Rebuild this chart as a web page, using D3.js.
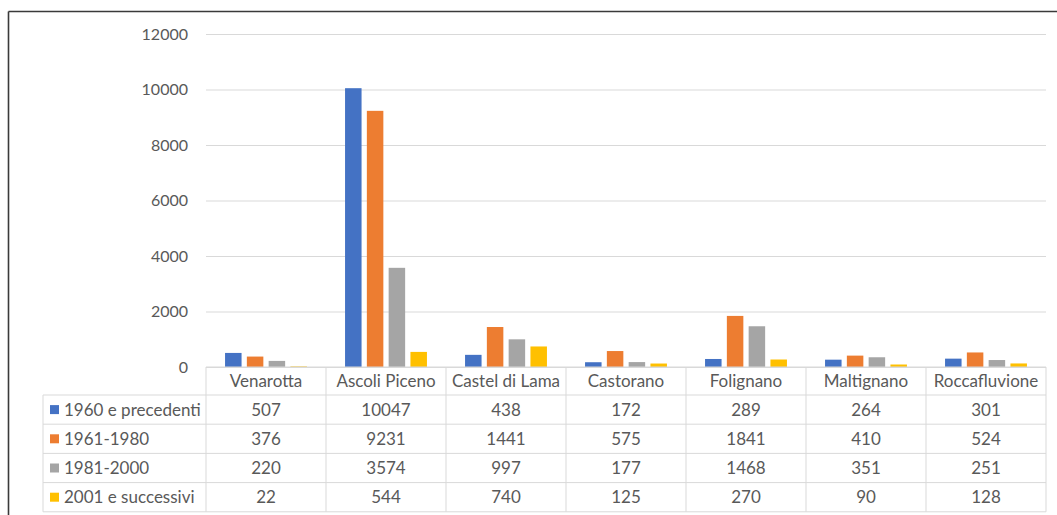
<!DOCTYPE html>
<html>
<head>
<meta charset="utf-8">
<script src="https://cdn.jsdelivr.net/npm/d3@7"></script>
<style>
  html, body { margin: 0; padding: 0; background: #fff; }
  svg { display: block; }
  text { font-family: Lato, "Open Sans", sans-serif; fill: #595959; }
</style>
</head>
<body>
<svg id="chart" width="1057" height="515"></svg>
<script>
// Comuni (categories along the x axis)
const comuni = ["Venarotta", "Ascoli Piceno", "Castel di Lama", "Castorano", "Folignano", "Maltignano", "Roccafluvione"];

// Series: building periods
const serie = ["1960 e precedenti", "1961-1980", "1981-2000", "2001 e successivi"];
const colori = ["#4472c4", "#ed7d31", "#a5a5a5", "#ffc000"];

// Values per series, one per comune
const v1960 = [507, 10047, 438, 172, 289, 264, 301];
const v1961 = [376, 9231, 1441, 575, 1841, 410, 524];
const v1981 = [220, 3574, 997, 177, 1468, 351, 251];
const v2001 = [22, 544, 740, 125, 270, 90, 128];

const yTicks = [0, 2000, 4000, 6000, 8000, 10000, 12000];

const valori = [v1960, v1961, v1981, v2001];

const svg = d3.select("#chart");

// Plot geometry
const plotLeft = 206, plotRight = 1046;
const plotTop = 34, plotBottom = 367;
const tableLeft = 43;
const headerH = 28, rowH = 29.2;
const tableFont = 17;

const x = d3.scaleBand().domain(comuni).range([plotLeft, plotRight]).paddingInner(0).paddingOuter(0);
const xs = d3.scaleBand().domain(serie).range([0, x.bandwidth()]).paddingInner(0.243).paddingOuter(0.874);
const y = d3.scaleLinear().domain([0, 12000]).range([plotBottom, plotTop]);

// Outer frame (top and left edges)
svg.append("line").attr("x1", 8.5).attr("x2", 1057).attr("y1", 11.5).attr("y2", 11.5)
  .attr("stroke", "#3a3a3a").attr("stroke-width", 1.6);
svg.append("line").attr("x1", 8.5).attr("x2", 8.5).attr("y1", 11.5).attr("y2", 515)
  .attr("stroke", "#3a3a3a").attr("stroke-width", 1.6);

// Horizontal gridlines + y labels
const yAxis = d3.axisLeft(y).tickValues(yTicks).tickSize(-(plotRight - plotLeft)).tickPadding(18).tickFormat(d3.format("d"));
const gy = svg.append("g").attr("transform", `translate(${plotLeft},0)`).call(yAxis);
gy.select(".domain").remove();
gy.selectAll(".tick line").attr("stroke", "#d9d9d9").attr("stroke-width", 1);
gy.selectAll(".tick text").attr("font-size", 16).attr("fill", "#595959").attr("font-family", "Lato, sans-serif");

// Bars
const gBars = svg.append("g");
serie.forEach((s, i) => {
  gBars.selectAll(null).data(valori[i]).enter().append("rect")
    .attr("x", (d, j) => x(comuni[j]) + xs(s))
    .attr("y", d => y(d))
    .attr("width", xs.bandwidth())
    .attr("height", d => y(0) - y(d))
    .attr("fill", colori[i]);
});

// Data table
const tbl = svg.append("g");
const rowsTop = plotBottom + headerH;
const tableBottom = rowsTop + rowH * serie.length;
const gridCol = "#d9d9d9";

// header row lines (category cells)
tbl.append("line").attr("x1", plotLeft).attr("x2", plotRight).attr("y1", plotBottom).attr("y2", plotBottom).attr("stroke", gridCol);
// horizontal row lines
d3.range(serie.length + 1).forEach(k => {
  const yy = rowsTop + k * rowH;
  tbl.append("line").attr("x1", tableLeft).attr("x2", plotRight).attr("y1", yy).attr("y2", yy).attr("stroke", gridCol);
});
// vertical lines for categories
const colEdges = comuni.map(c => x(c)).concat([plotRight]);
colEdges.forEach(xx => {
  tbl.append("line").attr("x1", xx).attr("x2", xx).attr("y1", plotBottom).attr("y2", tableBottom).attr("stroke", gridCol);
});
// left edge of legend column
tbl.append("line").attr("x1", tableLeft).attr("x2", tableLeft).attr("y1", rowsTop).attr("y2", tableBottom).attr("stroke", gridCol);

// category labels
tbl.selectAll(null).data(comuni).enter().append("text")
  .attr("x", d => x(d) + x.bandwidth() / 2)
  .attr("y", plotBottom + headerH / 2)
  .attr("dy", "0.36em")
  .attr("text-anchor", "middle")
  .attr("font-size", tableFont)
  .text(d => d);

// legend keys + series names + values
serie.forEach((s, i) => {
  const cy = rowsTop + i * rowH + rowH / 2;
  tbl.append("rect").attr("x", 50).attr("y", cy - 4.5).attr("width", 9).attr("height", 9).attr("fill", colori[i]);
  tbl.append("text").attr("x", 64).attr("y", cy).attr("dy", "0.36em").attr("font-size", tableFont).text(s);
  tbl.selectAll(null).data(valori[i]).enter().append("text")
    .attr("x", (d, j) => x(comuni[j]) + x.bandwidth() / 2)
    .attr("y", cy)
    .attr("dy", "0.36em")
    .attr("text-anchor", "middle")
    .attr("font-size", tableFont)
    .text(d => d);
});
</script>
</body>
</html>
